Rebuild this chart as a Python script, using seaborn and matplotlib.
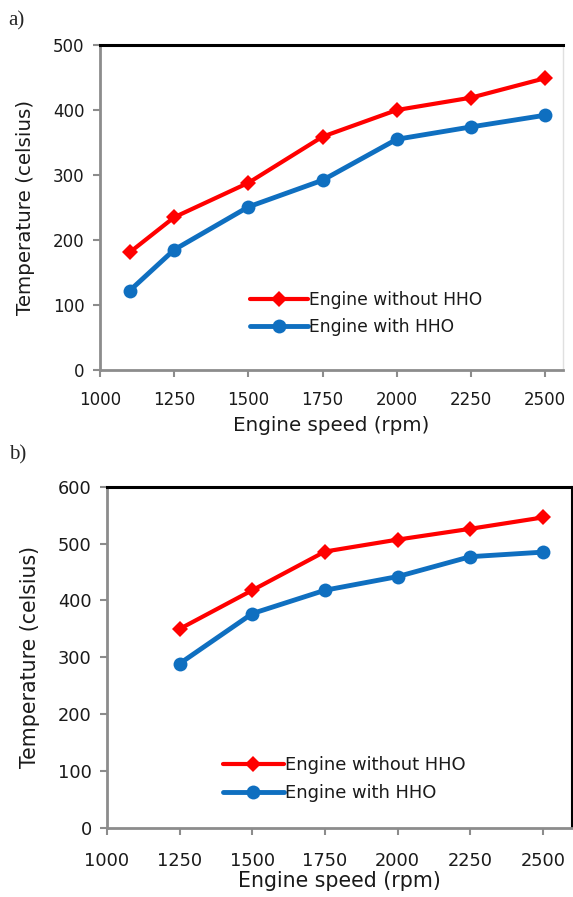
import matplotlib
matplotlib.use("Agg")
import matplotlib.pyplot as plt
import seaborn as sns
import pandas as pd

sns.set_style("white")
plt.rcParams['font.family'] = ['DejaVu Sans']

# ---- data ----
speed_a = [1100, 1250, 1500, 1750, 2000, 2250, 2500]
without_a = [181, 235, 288, 359, 400, 419, 449]
with_a = [122, 185, 251, 292, 355, 374, 392]

speed_b = [1250, 1500, 1750, 2000, 2250, 2500]
without_b = [350, 418, 486, 507, 526, 546]
with_b = [289, 377, 418, 442, 477, 485]

series_names = ["Engine without HHO", "Engine with HHO"]
xticks = [1000, 1250, 1500, 1750, 2000, 2250, 2500]
xlabel = "Engine speed (rpm)"
ylabel = "Temperature (celsius)"

RED = "#FF0000"
BLUE = "#0F6FC0"
GREY = "#8C8C8C"
TXT = "#1a1a1a"

fig = plt.figure(figsize=(5.73, 8.97), dpi=100)
ax1 = fig.add_axes([0.1745, 0.5875, 0.808, 0.3623])
ax2 = fig.add_axes([0.1867, 0.0769, 0.8115, 0.3805])


def make_df(x, a, b):
    return pd.DataFrame({
        "speed": list(x) + list(x),
        "temp": list(a) + list(b),
        "series": [series_names[0]] * len(x) + [series_names[1]] * len(x),
    })


def draw(ax, df, ylim, yticks, xright, right_color, right_lw, leg_anchor,
         xpad, xlabpad, fs_tick, fs_lab, fs_leg):
    sns.lineplot(data=df, x="speed", y="temp", hue="series", style="series",
                 palette={series_names[0]: RED, series_names[1]: BLUE},
                 markers={series_names[0]: "D", series_names[1]: "o"},
                 dashes=False, linewidth=3.2, markeredgewidth=0,
                 ax=ax, legend=False)
    for ln, ms, lw in zip(ax.get_lines(), [8.5, 10], [3.0, 3.5]):
        ln.set_markersize(ms)
        ln.set_linewidth(lw)
    ax.set_xlim(1000, xright)
    ax.set_ylim(*ylim)
    ax.set_xticks(xticks)
    ax.set_yticks(yticks)
    ax.tick_params(axis="both", labelsize=fs_tick, colors=GREY, length=5,
                   width=1.5, direction="out", labelcolor=TXT,
                   bottom=True, left=True)
    ax.tick_params(axis="x", pad=xpad)
    ax.tick_params(axis="y", pad=6)
    ax.set_xlabel(xlabel, fontsize=fs_lab, color=TXT, labelpad=xlabpad)
    ax.set_ylabel(ylabel, fontsize=fs_lab, color=TXT, labelpad=13)
    ax.spines["left"].set_color(GREY)
    ax.spines["left"].set_linewidth(2)
    ax.spines["bottom"].set_color(GREY)
    ax.spines["bottom"].set_linewidth(2)
    ax.spines["top"].set_color("black")
    ax.spines["top"].set_linewidth(2.2)
    ax.spines["right"].set_color(right_color)
    ax.spines["right"].set_linewidth(right_lw)
    handles = ax.get_lines()[:2]
    leg = ax.legend(handles, series_names, loc="upper left",
                    bbox_to_anchor=leg_anchor, frameon=False, fontsize=fs_leg,
                    handlelength=3.4, handletextpad=0.05, labelspacing=0.55,
                    borderaxespad=0)
    for t in leg.get_texts():
        t.set_color(TXT)


draw(ax1, make_df(speed_a, without_a, with_a), (0, 500),
     [0, 100, 200, 300, 400, 500], 2560, "#E0E0E0", 1.0, (0.31, 0.265),
     10, 5, 12, 14.3, 12.3)
draw(ax2, make_df(speed_b, without_b, with_b), (0, 600),
     [0, 100, 200, 300, 400, 500, 600], 2600, "black", 1.5, (0.234, 0.232),
     12, 1, 12.8, 14.8, 12.9)

fig.text(0.015, 0.977, "a)", fontsize=15, family="Liberation Serif", va="center")
fig.text(0.015, 0.493, "b)", fontsize=15, family="Liberation Serif", va="center")

fig.savefig("out.png", dpi=100)
